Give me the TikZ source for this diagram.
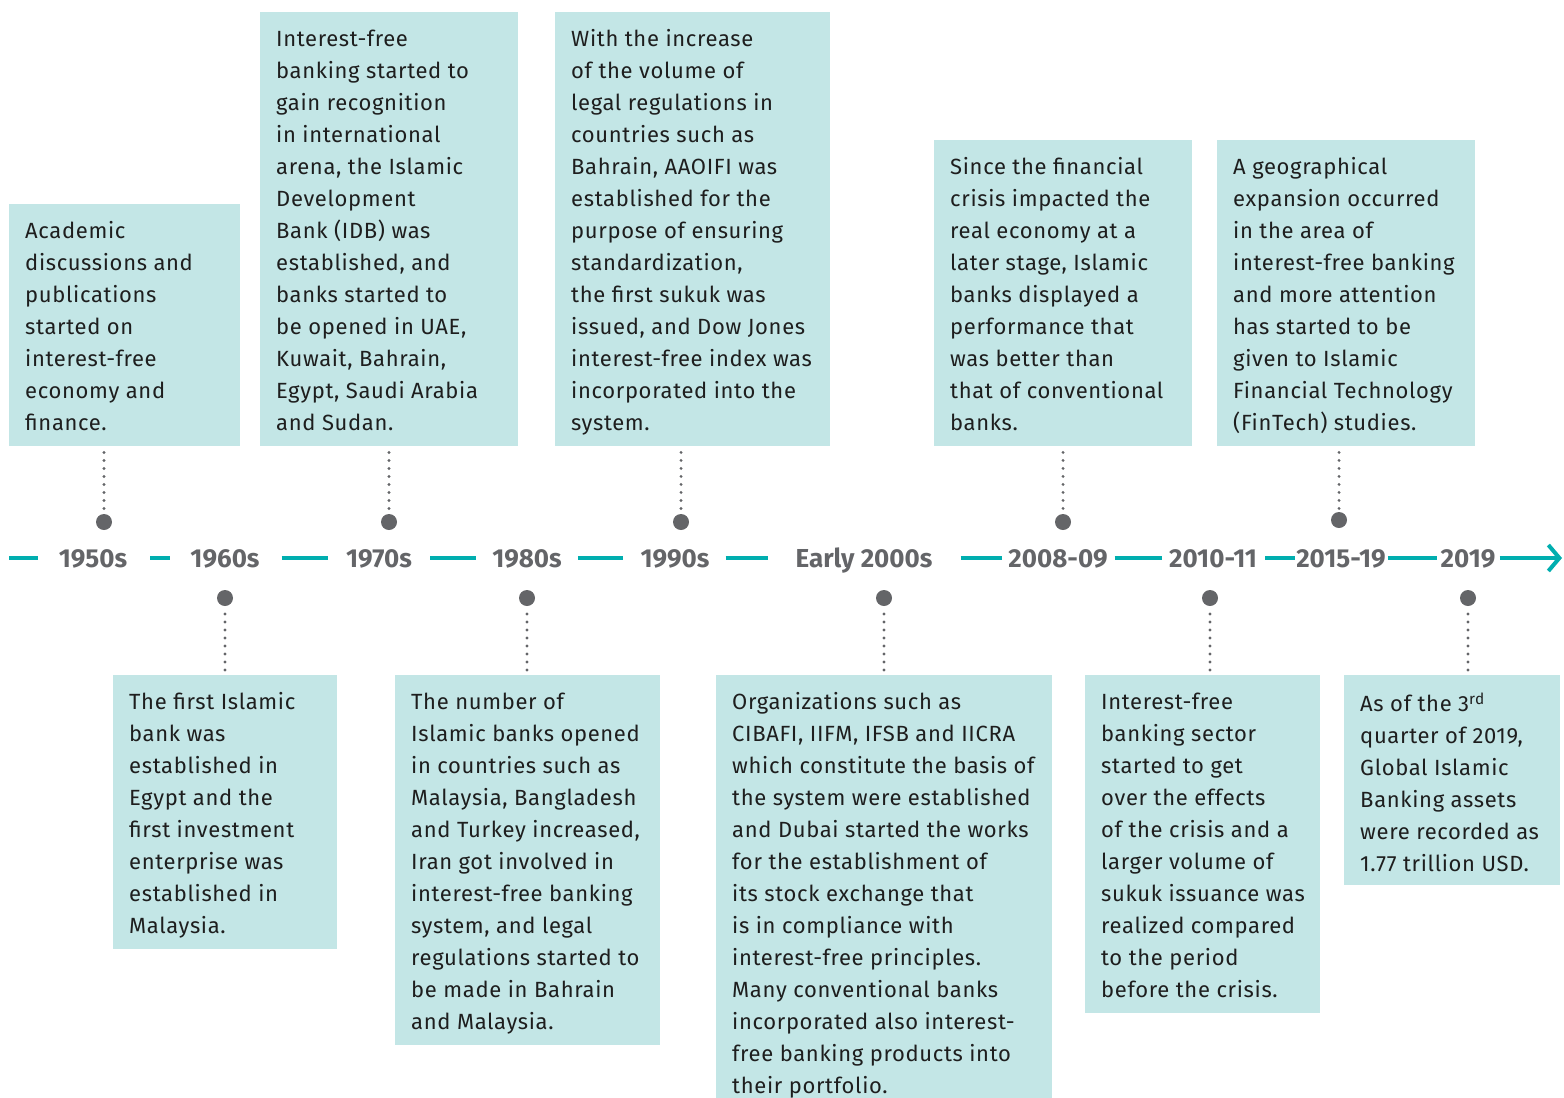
\documentclass[tikz,border=0pt]{standalone}
\usepackage{fontspec}
\setmainfont[LetterSpace=3]{Fira Sans}
\newfontfamily\periodfont{Fira Sans}
\usetikzlibrary{arrows.meta}
\definecolor{boxfill}{HTML}{C3E6E6}
\definecolor{teal}{HTML}{00AEAF}
\definecolor{axisgray}{HTML}{646568}
\definecolor{ink}{HTML}{1E1E1E}
\tikzset{
  eventbox/.style={fill=boxfill, draw=none, inner sep=0pt, anchor=north west},
  % the strut fixes the node top relative to the first baseline
  eventtext/.style={anchor=north west, inner sep=0pt, align=left, text=ink,
    font=\fontsize{22}{32}\selectfont, execute at begin node=\strut, yshift=17.6pt},
  period/.style={inner sep=0pt, text=axisgray, font=\periodfont\fontsize{26}{30}\selectfont\bfseries,
    text height=18pt, text depth=0pt, anchor=center},
  axisline/.style={draw=teal, line width=4pt},
  pin/.style={circle, fill=axisgray, minimum size=16pt, inner sep=0pt},
  leader/.style={draw=axisgray, line width=3.2pt, line cap=round, dash pattern=on 0pt off 8pt}
}
\begin{document}
\begin{tikzpicture}[x=1pt, y=-1pt]
\useasboundingbox (0,0) rectangle (1564,1098);

% ---- event boxes above the axis (text positioned at first baseline) ----
\node[eventbox, minimum width=231pt, minimum height=242pt] (b1) at (9,204) {};
\node[eventtext] (t1) at (25,239) {Academic\\discussions and\\publications\\started on\\interest-free\\economy and\\finance.};

\node[eventbox, minimum width=258pt, minimum height=434pt] (b3) at (260,12) {};
\node[eventtext] (t3) at (276,47) {Interest-free\\banking started to\\gain recognition\\in international\\arena, the Islamic\\Development\\Bank (IDB) was\\established, and\\banks started to\\be opened in UAE,\\Kuwait, Bahrain,\\Egypt, Saudi Arabia\\and Sudan.};

\node[eventbox, minimum width=275pt, minimum height=434pt] (b5) at (555,12) {};
\node[eventtext] (t5) at (571,47) {With the increase\\of the volume of\\legal regulations in\\countries such as\\Bahrain, AAOIFI was\\established for the\\purpose of ensuring\\standardization,\\the first sukuk was\\issued, and Dow Jones\\interest-free index was\\incorporated into the\\system.};

\node[eventbox, minimum width=258pt, minimum height=306pt] (b7) at (934,140) {};
\node[eventtext] (t7) at (950,175) {Since the financial\\crisis impacted the\\real economy at a\\later stage, Islamic\\banks displayed a\\performance that\\was better than\\that of conventional\\banks.};

\node[eventbox, minimum width=258pt, minimum height=306pt] (b9) at (1217,140) {};
\node[eventtext] (t9) at (1233,175) {A geographical\\expansion occurred\\in the area of\\interest-free banking\\and more attention\\has started to be\\given to Islamic\\Financial Technology\\(FinTech) studies.};

% ---- event boxes below the axis ----
\node[eventbox, minimum width=224pt, minimum height=274pt] (b2) at (113,675) {};
\node[eventtext] (t2) at (129,710) {The first Islamic\\bank was\\established in\\Egypt and the\\first investment\\enterprise was\\established in\\Malaysia.};

\node[eventbox, minimum width=265pt, minimum height=370pt] (b4) at (395,675) {};
\node[eventtext] (t4) at (411,710) {The number of\\Islamic banks opened\\in countries such as\\Malaysia, Bangladesh\\and Turkey increased,\\Iran got involved in\\interest-free banking\\system, and legal\\regulations started to\\be made in Bahrain\\and Malaysia.};

\node[eventbox, minimum width=336pt, minimum height=423pt] (b6) at (716,675) {};
\node[eventtext] (t6) at (732,710) {Organizations such as\\CIBAFI, IIFM, IFSB and IICRA\\which constitute the basis of\\the system were established\\and Dubai started the works\\for the establishment of\\its stock exchange that\\is in compliance with\\interest-free principles.\\Many conventional banks\\incorporated also interest-\\free banking products into\\their portfolio.};

\node[eventbox, minimum width=235pt, minimum height=338pt] (b8) at (1085,675) {};
\node[eventtext] (t8) at (1101,710) {Interest-free\\banking sector\\started to get\\over the effects\\of the crisis and a\\larger volume of\\sukuk issuance was\\realized compared\\to the period\\before the crisis.};

\node[eventbox, minimum width=216pt, minimum height=210pt] (b10) at (1344,675) {};
\node[eventtext] (t10) at (1360,710) {As of the 3\textsuperscript{rd}\\quarter of 2019,\\Global Islamic\\Banking assets\\were recorded as\\1.77 trillion USD.};

% ---- period labels on the axis ----
\node[period] (p1) at (93,558) {1950s};
\node[period] (p2) at (225,558) {1960s};
\node[period] (p3) at (379,558) {1970s};
\node[period] (p4) at (527,558) {1980s};
\node[period] (p5) at (675,558) {1990s};
\node[period] (p6) at (864,558) {Early 2000s};
\node[period] (p7) at (1058,558) {2008-09};
\node[period] (p8) at (1213,558) {2010-11};
\node[period] (p9) at (1341,558) {2015-19};
\node[period] (p10) at (1468,558) {2019};
\coordinate (axisstart) at (9,558);
\coordinate (axisend) at (1562,558);

% ---- axis segments ----
\draw[axisline, shorten >=21pt] (axisstart) -- (p1.west);
\draw[axisline, shorten <=23pt, shorten >=20pt] (p1.east) -- (p2.west);
\draw[axisline, shorten <=22pt, shorten >=18pt] (p2.east) -- (p3.west);
\draw[axisline, shorten <=18pt, shorten >=16pt] (p3.east) -- (p4.west);
\draw[axisline, shorten <=16pt, shorten >=17pt] (p4.east) -- (p5.west);
\draw[axisline, shorten <=16pt, shorten >=27pt] (p5.east) -- (p6.west);
\draw[axisline, shorten <=28pt, shorten >=6pt] (p6.east) -- (p7.west);
\draw[axisline, shorten <=7pt, shorten >=7pt] (p7.east) -- (p8.west);
\draw[axisline, shorten <=8pt, shorten >=1pt] (p8.east) -- (p9.west);
\draw[axisline, shorten <=2pt, shorten >=3pt] (p9.east) -- (p10.west);
\draw[axisline, shorten <=4pt, -{Straight Barb[length=11pt, width=26pt, line width=4pt]}] (p10.east) -- (axisend);

% ---- pins and leaders ----
\node[pin] (d1) at (104,522) {};
\node[pin] (d3) at (389,522) {};
\node[pin] (d5) at (681,522) {};
\node[pin] (d7) at (1063,522) {};
\node[pin] (d9) at (1339,520) {};
\node[pin] (d2) at (225,598) {};
\node[pin] (d4) at (527,598) {};
\node[pin] (d6) at (884,598) {};
\node[pin] (d8) at (1210,598) {};
\node[pin] (d10) at (1468,598) {};

% dotted leaders run from each box edge to its pin
\foreach \i in {1,3,5,7,9}
  \draw[leader] ([yshift=-6pt]b\i.south -| d\i) -- (d\i);
\foreach \i in {2,4,6,8,10}
  \draw[leader] ([yshift=5pt]b\i.north -| d\i) -- (d\i);
\end{tikzpicture}
\end{document}
